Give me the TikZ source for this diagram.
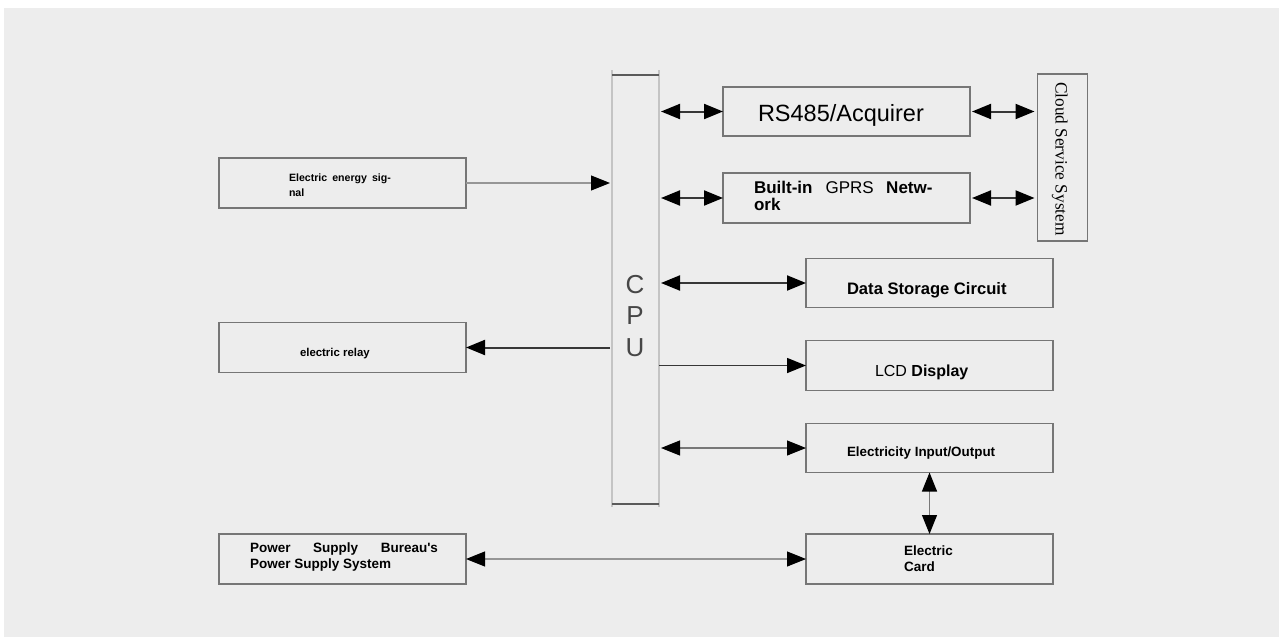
\documentclass[tikz,border=0pt]{standalone}
\usepackage{fontspec}
\setmainfont{Liberation Sans}
\newfontfamily\cloudfont{Liberation Serif}
\usetikzlibrary{arrows.meta}
\definecolor{bg}{RGB}{237,237,237}
\definecolor{boxline}{RGB}{118,118,118}
\definecolor{darkline}{RGB}{55,55,55}
\definecolor{thinline}{RGB}{150,150,150}
\definecolor{cpuside}{RGB}{196,196,196}
\definecolor{cpucap}{RGB}{90,90,90}
\newcommand\fsz[1]{\fontsize{#1}{#1}\selectfont}
\begin{document}
\begin{tikzpicture}[x=1pt,y=-1pt,
  box/.style={draw=boxline,line width=1.8pt,minimum width=247pt,minimum height=49pt,inner sep=0pt,outer sep=0pt},
  lbl/.style={inner sep=0pt,outer sep=0pt,anchor=base west,text=black},
  arr/.style={-{Triangle[length=19pt,width=15pt,color=black]}},
  darr/.style={{Triangle[length=19pt,width=15pt,color=black]}-{Triangle[length=19pt,width=15pt,color=black]}},
  heavy/.style={draw=darkline,line width=2pt},
  medium/.style={draw=darkline,line width=1.5pt},
  light/.style={draw=thinline,line width=1.1pt}]
\useasboundingbox (0,0) rectangle (1279,637);
\fill[white] (0,0) rectangle (1279,637);
\fill[bg] (4,8) rectangle (1279,637);

% CPU
\node[inner sep=0pt,outer sep=0pt,minimum width=47pt,minimum height=429pt] (cpu) at (635.5,289.5) {};
\draw[cpuside,line width=1.2pt] ([yshift=5pt]cpu.north west) -- ([yshift=-3pt]cpu.south west);
\draw[cpuside,line width=1.2pt] ([yshift=5pt]cpu.north east) -- ([yshift=-3pt]cpu.south east);
\draw[cpucap,line width=2.6pt] (cpu.north west) -- (cpu.north east);
\draw[cpucap,line width=2.6pt] (cpu.south west) -- (cpu.south east);
\node[inner sep=0pt,align=center,text={rgb,255:red,70;green,70;blue,70},font=\fontsize{26}{31.5}\selectfont] (cputxt) at (635,316) {C\\P\\U};

% boxes
\node[box] (rs) at (846.5,111.5) {};
\node[box,minimum height=50pt] (gprs) at (846.5,198) {};
\node[box,minimum width=50pt,minimum height=167pt] (cloud) at (1062.5,157.5) {};
\node[box,minimum height=50pt] (energy) at (342.5,183) {};
\node[box,minimum height=50pt] (relay) at (342.5,347.5) {};
\node[box] (store) at (929.5,283) {};
\node[box,minimum height=50pt] (lcd) at (929.5,365.5) {};
\node[box] (io) at (929.5,448) {};
\node[box,minimum height=50pt] (power) at (342.5,559) {};
\node[box,minimum height=50pt] (card) at (929.5,559) {};

% texts
\node[lbl,font=\fsz{23.5}] (rs-t) at (758,121) {RS485/Acquirer};
\node[lbl,font=\fsz{17}] (gprs-t1) at (754,193) {\textbf{Built-in}\hspace{13pt}GPRS\hspace{12.5pt}\textbf{Netw-}};
\node[lbl,font=\fsz{17}\bfseries] (gprs-t2) at (754,210) {ork};
\node[lbl,font=\fsz{17.3}\cloudfont,rotate=-90] (cloud-t) at (1055.5,82) {Cloud Service System};
\node[lbl,font=\fsz{10.6}\bfseries] (energy-t1) at (289,181) {Electric\hspace{5pt}energy\hspace{5pt}sig-};
\node[lbl,font=\fsz{10.6}\bfseries] (energy-t2) at (289,196) {nal};
\node[lbl,font=\fsz{11.4}\bfseries] (relay-t) at (300,356) {electric relay};
\node[lbl,font=\fsz{16.6}\bfseries] (store-t) at (847,294) {Data Storage Circuit};
\node[lbl,font=\fsz{16}] (lcd-t) at (875,376) {LCD \textbf{Display}};
\node[lbl,font=\fsz{13.4}\bfseries] (io-t) at (847,456) {Electricity Input/Output};
\node[lbl,font=\fsz{13.5}\bfseries] (power-t1) at (250,552) {\makebox[188pt][s]{Power Supply Bureau\textquotesingle s}};
\node[lbl,font=\fsz{13.5}\bfseries] (power-t2) at (250,568) {Power Supply System};
\node[lbl,font=\fsz{13.5}\bfseries] (card-t1) at (904,555) {Electric};
\node[lbl,font=\fsz{13.5}\bfseries] (card-t2) at (904,571) {Card};

% connectors
\draw[darr,heavy,shorten <=2pt] (cpu.east |- rs.west) -- (rs.west);
\draw[darr,heavy,shorten >=3pt,shorten <=2pt] (rs.east) -- (cloud.west |- rs.east);
\draw[darr,heavy,shorten <=2pt] (cpu.east |- gprs.west) -- (gprs.west);
\draw[darr,heavy,shorten >=3pt,shorten <=2pt] (gprs.east) -- (cloud.west |- gprs.east);
\draw[arr,light] (energy.east) -- ([xshift=-2pt]cpu.west |- energy.east);
\draw[darr,heavy,shorten <=2pt] (cpu.east |- store.west) -- (store.west);
\draw[arr,heavy] ([xshift=-2pt]cpu.west |- relay.east) -- (relay.east);
\draw[arr,medium] (cpu.east |- lcd.west) -- (lcd.west);
\draw[darr,light,draw={rgb,255:red,120;green,120;blue,120},shorten <=2pt] (cpu.east |- io.west) -- (io.west);
\draw[darr,light,draw={rgb,255:red,120;green,120;blue,120}] (io.south) -- (card.north);
\draw[darr,light] (power.east) -- (card.west);
\end{tikzpicture}
\end{document}
